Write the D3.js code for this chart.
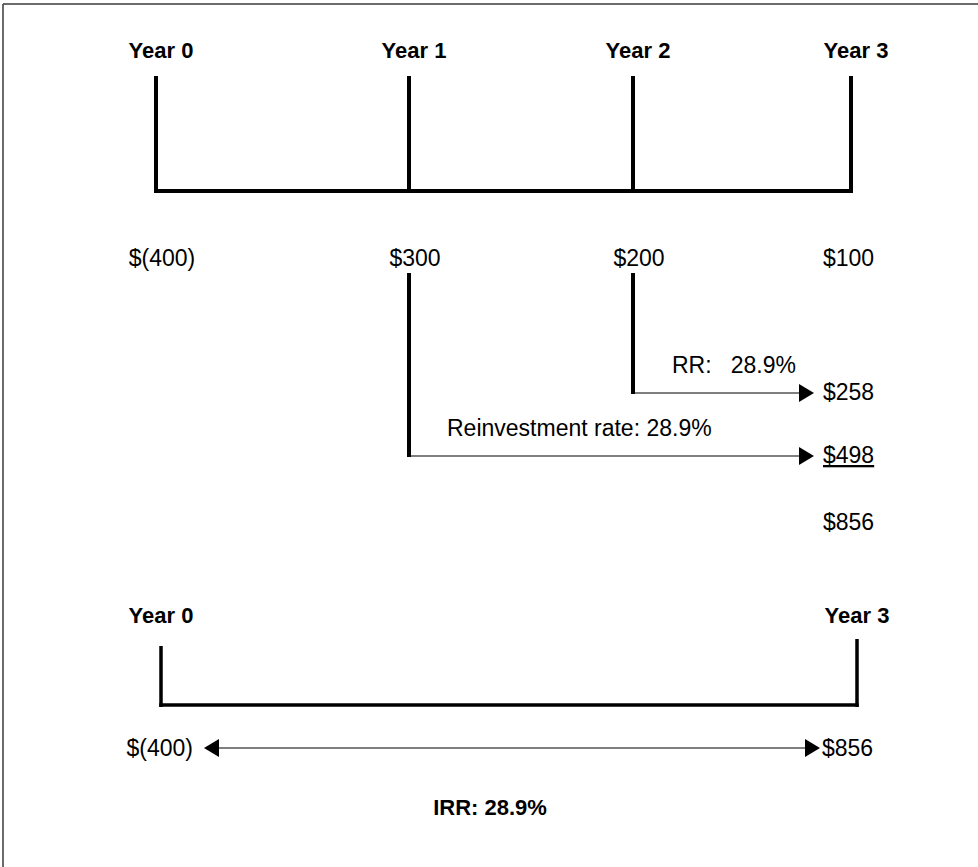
<!DOCTYPE html>
<html>
<head>
<meta charset="utf-8">
<script src="https://cdn.jsdelivr.net/npm/d3@7/dist/d3.min.js"></script>
<style>
  html, body { margin: 0; padding: 0; background: #fff; }
  svg { display: block; }
  text { font-family: "Liberation Sans", Arial, Helvetica, sans-serif; fill: #000; white-space: pre; }
</style>
</head>
<body>
<script>
// ---- data ----
const years = ["Year 0", "Year 1", "Year 2", "Year 3"];
const cashFlows = ["$(400)", "$300", "$200", "$100"];
const reinvested = [
  { from: "Year 2", label: "RR:   28.9%", value: "$258", underline: false },
  { from: "Year 1", label: "Reinvestment rate: 28.9%", value: "$498", underline: true }
];
const terminalValue = "$856";
const summaryYears = ["Year 0", "Year 3"];
const summaryFlows = ["$(400)", "$856"];
const irrLabel = "IRR: 28.9%";

// ---- layout ----
const W = 978, H = 867;
const svg = d3.select("body").append("svg").attr("width", W).attr("height", H);

// frame (left & top edges visible)
svg.append("line").attr("x1", 3).attr("y1", 4).attr("x2", W).attr("y2", 4)
  .attr("stroke", "#3a3a3a").attr("stroke-width", 1.5);
svg.append("line").attr("x1", 3).attr("y1", 4).attr("x2", 3).attr("y2", H)
  .attr("stroke", "#3a3a3a").attr("stroke-width", 1.5);

const x = d3.scaleOrdinal().domain(years).range([156, 409, 633, 851]);
const xs = d3.scaleOrdinal().domain(summaryYears).range([161, 857]);

const bold = 22, normal = 23;

// ---- top timeline ----
const gTop = svg.append("g");
gTop.selectAll("text.year").data(years).join("text")
  .attr("x", d => x(d) + 5).attr("y", 58)
  .attr("text-anchor", "middle").attr("font-weight", "bold").attr("font-size", bold)
  .text(d => d);
gTop.selectAll("line.tick").data(years).join("line")
  .attr("x1", d => x(d)).attr("x2", d => x(d))
  .attr("y1", 76).attr("y2", 193)
  .attr("stroke", "#000").attr("stroke-width", 4);
gTop.append("line")
  .attr("x1", x(years[0]) - 2).attr("x2", x(years[3]) + 2)
  .attr("y1", 191).attr("y2", 191)
  .attr("stroke", "#000").attr("stroke-width", 4);

// cash flows
gTop.selectAll("text.cf").data(cashFlows).join("text")
  .attr("x", (d, i) => i === 3 ? 823 : x(years[i]) + 6)
  .attr("y", 266)
  .attr("text-anchor", (d, i) => i === 3 ? "start" : "middle")
  .attr("font-size", normal)
  .text(d => d);

// reinvestment arrows
const arrowY = { "Year 2": 393, "Year 1": 456 };
const tipX = 814;
function arrowHead(g, tx, ty, dir) {
  g.append("path")
    .attr("d", `M${tx},${ty} L${tx - dir * 15},${ty - 9} L${tx - dir * 15},${ty + 9} Z`)
    .attr("fill", "#000");
}
reinvested.forEach(r => {
  const px = x(r.from), py = arrowY[r.from];
  svg.append("line").attr("x1", px).attr("x2", px).attr("y1", 273).attr("y2", py + 1)
    .attr("stroke", "#000").attr("stroke-width", 4);
  svg.append("line").attr("x1", px).attr("x2", tipX - 10).attr("y1", py).attr("y2", py)
    .attr("stroke", "#000").attr("stroke-width", 1.2);
  arrowHead(svg, tipX, py, 1);
  svg.append("text").attr("x", r.from === "Year 2" ? 672 : 447).attr("y", py - 20)
    .attr("font-size", normal).attr("xml:space", "preserve").text(r.label);
  svg.append("text").attr("x", 823).attr("y", py + 7)
    .attr("font-size", normal)
    .attr("text-decoration", r.underline ? "underline" : null)
    .text(r.value);
});
svg.append("text").attr("x", 823).attr("y", 530).attr("font-size", normal).text(terminalValue);

// ---- summary timeline ----
const gBot = svg.append("g");
gBot.selectAll("text.year").data(summaryYears).join("text")
  .attr("x", d => xs(d)).attr("y", 623)
  .attr("text-anchor", "middle").attr("font-weight", "bold").attr("font-size", bold)
  .text(d => d);
gBot.selectAll("line.tick").data(summaryYears).join("line")
  .attr("x1", d => xs(d)).attr("x2", d => xs(d))
  .attr("y1", (d, i) => i === 0 ? 646 : 639).attr("y2", 707)
  .attr("stroke", "#000").attr("stroke-width", 3.5);
gBot.append("line")
  .attr("x1", xs(summaryYears[0]) - 1.75).attr("x2", xs(summaryYears[1]) + 1.75)
  .attr("y1", 705).attr("y2", 705)
  .attr("stroke", "#000").attr("stroke-width", 3.5);

const ay = 748;
gBot.append("line").attr("x1", 215).attr("x2", 810).attr("y1", ay).attr("y2", ay)
  .attr("stroke", "#000").attr("stroke-width", 1.2);
arrowHead(gBot, 204, ay, -1);
arrowHead(gBot, 820, ay, 1);
gBot.append("text").attr("x", 193).attr("y", ay + 8).attr("text-anchor", "end")
  .attr("font-size", normal).text(summaryFlows[0]);
gBot.append("text").attr("x", 822).attr("y", ay + 8).attr("text-anchor", "start")
  .attr("font-size", normal).text(summaryFlows[1]);

svg.append("text").attr("x", 490).attr("y", 815).attr("text-anchor", "middle")
  .attr("font-weight", "bold").attr("font-size", bold).text(irrLabel);
</script>
</body>
</html>
